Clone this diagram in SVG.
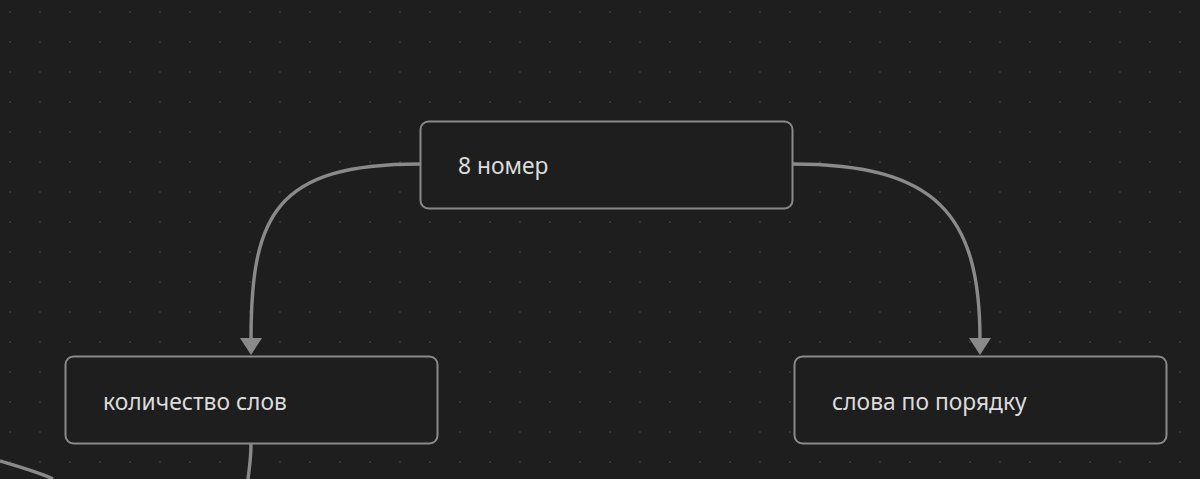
<svg xmlns="http://www.w3.org/2000/svg" width="1200" height="479" viewBox="0 0 1200 479">
<defs>
<pattern id="dots" x="10" y="12" width="30" height="30" patternUnits="userSpaceOnUse">
<circle cx="0" cy="0" r="1" fill="#3a3a3a"/>
<circle cx="30" cy="0" r="1" fill="#3a3a3a"/>
<circle cx="0" cy="30" r="1" fill="#3a3a3a"/>
<circle cx="30" cy="30" r="1" fill="#3a3a3a"/>
</pattern>
<style>
.node rect{fill:#1e1e1e;stroke:#8a8a8a;stroke-width:2}
.node text{fill:#dcdcdc;font-family:"Noto Sans","Open Sans",sans-serif;font-size:22.8px}
.edge{fill:none;stroke:#8a8a8a;stroke-width:3.4}
.head{fill:#8a8a8a}
</style>
</defs>
<rect width="1200" height="479" fill="#1e1e1e"/>
<rect width="1200" height="479" fill="url(#dots)"/>
<g id="connectors">
<path class="edge" d="M420,164 C275,164 251,215 251,340"/>
<polygon class="head" points="240,338 262,338 251,355"/>
<path class="edge" d="M792,164 C937,164 980,215 980,340"/>
<polygon class="head" points="969,338 991,338 980,355"/>
<path class="edge" d="M251,443 C251,460 249,470 248,479"/>
<path class="edge" d="M0,461 C20,467 38,472 53,479"/>
</g>
<g id="node-8-nomer" class="node">
<rect x="420.5" y="121.5" width="372" height="87" rx="8"/>
<text x="458" y="174">8 номер</text>
</g>
<g id="node-kolichestvo" class="node">
<rect x="65.5" y="356.5" width="372" height="87" rx="8"/>
<text x="103" y="410">количество слов</text>
</g>
<g id="node-slova" class="node">
<rect x="794.5" y="356.5" width="372" height="87" rx="8"/>
<text x="832" y="410">слова по порядку</text>
</g>
</svg>
